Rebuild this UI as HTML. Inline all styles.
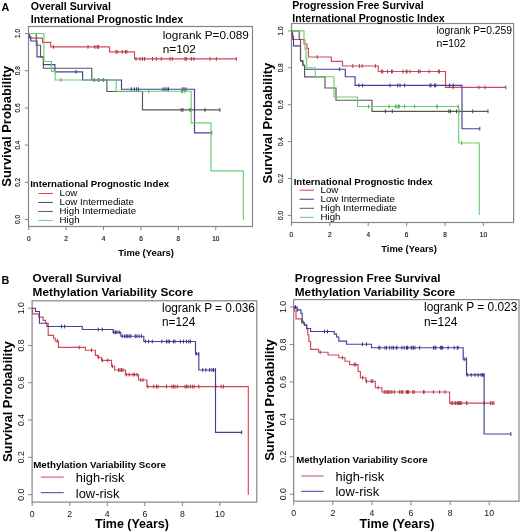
<!DOCTYPE html>
<html><head><meta charset="utf-8"><style>
html,body{margin:0;padding:0;background:#fff;}
svg{display:block;font-family:"Liberation Sans", sans-serif;will-change:transform;}
</style></head><body>
<svg width="520" height="532" viewBox="0 0 520 532">
<rect width="520" height="532" fill="#fff"/>
<rect x="28.5" y="26.5" width="224.0" height="200.0" fill="none" stroke="#858585" stroke-width="1.2"/>
<line x1="28.75" y1="226.5" x2="28.75" y2="230.1" stroke="#858585" stroke-width="1"/>
<text x="28.75" y="241.0" font-size="6.5" text-anchor="middle" fill="#111" stroke="#111" stroke-width="0.15">0</text>
<line x1="66.15" y1="226.5" x2="66.15" y2="230.1" stroke="#858585" stroke-width="1"/>
<text x="66.15" y="241.0" font-size="6.5" text-anchor="middle" fill="#111" stroke="#111" stroke-width="0.15">2</text>
<line x1="103.55" y1="226.5" x2="103.55" y2="230.1" stroke="#858585" stroke-width="1"/>
<text x="103.55" y="241.0" font-size="6.5" text-anchor="middle" fill="#111" stroke="#111" stroke-width="0.15">4</text>
<line x1="140.95" y1="226.5" x2="140.95" y2="230.1" stroke="#858585" stroke-width="1"/>
<text x="140.95" y="241.0" font-size="6.5" text-anchor="middle" fill="#111" stroke="#111" stroke-width="0.15">6</text>
<line x1="178.35" y1="226.5" x2="178.35" y2="230.1" stroke="#858585" stroke-width="1"/>
<text x="178.35" y="241.0" font-size="6.5" text-anchor="middle" fill="#111" stroke="#111" stroke-width="0.15">8</text>
<line x1="215.75" y1="226.5" x2="215.75" y2="230.1" stroke="#858585" stroke-width="1"/>
<text x="215.75" y="241.0" font-size="6.5" text-anchor="middle" fill="#111" stroke="#111" stroke-width="0.15">10</text>
<line x1="24.9" y1="219.50" x2="28.5" y2="219.50" stroke="#858585" stroke-width="1"/>
<text transform="translate(19.9 219.50) rotate(-90) scale(1 1.0)" x="0" y="0" font-size="6.5" text-anchor="middle" fill="#111" stroke="#111" stroke-width="0.15">0.0</text>
<line x1="24.9" y1="182.30" x2="28.5" y2="182.30" stroke="#858585" stroke-width="1"/>
<text transform="translate(19.9 182.30) rotate(-90) scale(1 1.0)" x="0" y="0" font-size="6.5" text-anchor="middle" fill="#111" stroke="#111" stroke-width="0.15">0.2</text>
<line x1="24.9" y1="145.10" x2="28.5" y2="145.10" stroke="#858585" stroke-width="1"/>
<text transform="translate(19.9 145.10) rotate(-90) scale(1 1.0)" x="0" y="0" font-size="6.5" text-anchor="middle" fill="#111" stroke="#111" stroke-width="0.15">0.4</text>
<line x1="24.9" y1="107.90" x2="28.5" y2="107.90" stroke="#858585" stroke-width="1"/>
<text transform="translate(19.9 107.90) rotate(-90) scale(1 1.0)" x="0" y="0" font-size="6.5" text-anchor="middle" fill="#111" stroke="#111" stroke-width="0.15">0.6</text>
<line x1="24.9" y1="70.70" x2="28.5" y2="70.70" stroke="#858585" stroke-width="1"/>
<text transform="translate(19.9 70.70) rotate(-90) scale(1 1.0)" x="0" y="0" font-size="6.5" text-anchor="middle" fill="#111" stroke="#111" stroke-width="0.15">0.8</text>
<line x1="24.9" y1="33.50" x2="28.5" y2="33.50" stroke="#858585" stroke-width="1"/>
<text transform="translate(19.9 33.50) rotate(-90) scale(1 1.0)" x="0" y="0" font-size="6.5" text-anchor="middle" fill="#111" stroke="#111" stroke-width="0.15">1.0</text>
<rect x="291.5" y="23.5" width="222.10000000000002" height="199.0" fill="none" stroke="#858585" stroke-width="1.2"/>
<line x1="291.40" y1="222.5" x2="291.40" y2="226.1" stroke="#858585" stroke-width="1"/>
<text x="291.40" y="236.9" font-size="6.5" text-anchor="middle" fill="#111" stroke="#111" stroke-width="0.15">0</text>
<line x1="329.80" y1="222.5" x2="329.80" y2="226.1" stroke="#858585" stroke-width="1"/>
<text x="329.80" y="236.9" font-size="6.5" text-anchor="middle" fill="#111" stroke="#111" stroke-width="0.15">2</text>
<line x1="368.20" y1="222.5" x2="368.20" y2="226.1" stroke="#858585" stroke-width="1"/>
<text x="368.20" y="236.9" font-size="6.5" text-anchor="middle" fill="#111" stroke="#111" stroke-width="0.15">4</text>
<line x1="406.60" y1="222.5" x2="406.60" y2="226.1" stroke="#858585" stroke-width="1"/>
<text x="406.60" y="236.9" font-size="6.5" text-anchor="middle" fill="#111" stroke="#111" stroke-width="0.15">6</text>
<line x1="445.00" y1="222.5" x2="445.00" y2="226.1" stroke="#858585" stroke-width="1"/>
<text x="445.00" y="236.9" font-size="6.5" text-anchor="middle" fill="#111" stroke="#111" stroke-width="0.15">8</text>
<line x1="483.40" y1="222.5" x2="483.40" y2="226.1" stroke="#858585" stroke-width="1"/>
<text x="483.40" y="236.9" font-size="6.5" text-anchor="middle" fill="#111" stroke="#111" stroke-width="0.15">10</text>
<line x1="287.9" y1="215.40" x2="291.5" y2="215.40" stroke="#858585" stroke-width="1"/>
<text transform="translate(282.5 215.40) rotate(-90) scale(1 1.0)" x="0" y="0" font-size="6.5" text-anchor="middle" fill="#111" stroke="#111" stroke-width="0.15">0.0</text>
<line x1="287.9" y1="178.50" x2="291.5" y2="178.50" stroke="#858585" stroke-width="1"/>
<text transform="translate(282.5 178.50) rotate(-90) scale(1 1.0)" x="0" y="0" font-size="6.5" text-anchor="middle" fill="#111" stroke="#111" stroke-width="0.15">0.2</text>
<line x1="287.9" y1="141.60" x2="291.5" y2="141.60" stroke="#858585" stroke-width="1"/>
<text transform="translate(282.5 141.60) rotate(-90) scale(1 1.0)" x="0" y="0" font-size="6.5" text-anchor="middle" fill="#111" stroke="#111" stroke-width="0.15">0.4</text>
<line x1="287.9" y1="104.70" x2="291.5" y2="104.70" stroke="#858585" stroke-width="1"/>
<text transform="translate(282.5 104.70) rotate(-90) scale(1 1.0)" x="0" y="0" font-size="6.5" text-anchor="middle" fill="#111" stroke="#111" stroke-width="0.15">0.6</text>
<line x1="287.9" y1="67.80" x2="291.5" y2="67.80" stroke="#858585" stroke-width="1"/>
<text transform="translate(282.5 67.80) rotate(-90) scale(1 1.0)" x="0" y="0" font-size="6.5" text-anchor="middle" fill="#111" stroke="#111" stroke-width="0.15">0.8</text>
<line x1="287.9" y1="30.90" x2="291.5" y2="30.90" stroke="#858585" stroke-width="1"/>
<text transform="translate(282.5 30.90) rotate(-90) scale(1 1.0)" x="0" y="0" font-size="6.5" text-anchor="middle" fill="#111" stroke="#111" stroke-width="0.15">1.0</text>
<rect x="32.1" y="300.8" width="224.70000000000002" height="201.3" fill="none" stroke="#858585" stroke-width="1.2"/>
<line x1="32.20" y1="502.1" x2="32.20" y2="506.1" stroke="#858585" stroke-width="1"/>
<text x="32.20" y="516.6" font-size="8.7" text-anchor="middle" fill="#111">0</text>
<line x1="69.74" y1="502.1" x2="69.74" y2="506.1" stroke="#858585" stroke-width="1"/>
<text x="69.74" y="516.6" font-size="8.7" text-anchor="middle" fill="#111">2</text>
<line x1="107.28" y1="502.1" x2="107.28" y2="506.1" stroke="#858585" stroke-width="1"/>
<text x="107.28" y="516.6" font-size="8.7" text-anchor="middle" fill="#111">4</text>
<line x1="144.82" y1="502.1" x2="144.82" y2="506.1" stroke="#858585" stroke-width="1"/>
<text x="144.82" y="516.6" font-size="8.7" text-anchor="middle" fill="#111">6</text>
<line x1="182.36" y1="502.1" x2="182.36" y2="506.1" stroke="#858585" stroke-width="1"/>
<text x="182.36" y="516.6" font-size="8.7" text-anchor="middle" fill="#111">8</text>
<line x1="219.90" y1="502.1" x2="219.90" y2="506.1" stroke="#858585" stroke-width="1"/>
<text x="219.90" y="516.6" font-size="8.7" text-anchor="middle" fill="#111">10</text>
<line x1="28.1" y1="494.60" x2="32.1" y2="494.60" stroke="#858585" stroke-width="1"/>
<text transform="translate(23.8 494.60) rotate(-90) scale(1 1.0)" x="0" y="0" font-size="8.7" text-anchor="middle" fill="#111">0.0</text>
<line x1="28.1" y1="457.32" x2="32.1" y2="457.32" stroke="#858585" stroke-width="1"/>
<text transform="translate(23.8 457.32) rotate(-90) scale(1 1.0)" x="0" y="0" font-size="8.7" text-anchor="middle" fill="#111">0.2</text>
<line x1="28.1" y1="420.04" x2="32.1" y2="420.04" stroke="#858585" stroke-width="1"/>
<text transform="translate(23.8 420.04) rotate(-90) scale(1 1.0)" x="0" y="0" font-size="8.7" text-anchor="middle" fill="#111">0.4</text>
<line x1="28.1" y1="382.76" x2="32.1" y2="382.76" stroke="#858585" stroke-width="1"/>
<text transform="translate(23.8 382.76) rotate(-90) scale(1 1.0)" x="0" y="0" font-size="8.7" text-anchor="middle" fill="#111">0.6</text>
<line x1="28.1" y1="345.48" x2="32.1" y2="345.48" stroke="#858585" stroke-width="1"/>
<text transform="translate(23.8 345.48) rotate(-90) scale(1 1.0)" x="0" y="0" font-size="8.7" text-anchor="middle" fill="#111">0.8</text>
<line x1="28.1" y1="308.20" x2="32.1" y2="308.20" stroke="#858585" stroke-width="1"/>
<text transform="translate(23.8 308.20) rotate(-90) scale(1 1.0)" x="0" y="0" font-size="8.7" text-anchor="middle" fill="#111">1.0</text>
<rect x="293.7" y="299.6" width="225.3" height="201.59999999999997" fill="none" stroke="#858585" stroke-width="1.2"/>
<line x1="293.70" y1="501.2" x2="293.70" y2="505.2" stroke="#858585" stroke-width="1"/>
<text x="293.70" y="516.2" font-size="8.7" text-anchor="middle" fill="#111">0</text>
<line x1="332.80" y1="501.2" x2="332.80" y2="505.2" stroke="#858585" stroke-width="1"/>
<text x="332.80" y="516.2" font-size="8.7" text-anchor="middle" fill="#111">2</text>
<line x1="371.90" y1="501.2" x2="371.90" y2="505.2" stroke="#858585" stroke-width="1"/>
<text x="371.90" y="516.2" font-size="8.7" text-anchor="middle" fill="#111">4</text>
<line x1="411.00" y1="501.2" x2="411.00" y2="505.2" stroke="#858585" stroke-width="1"/>
<text x="411.00" y="516.2" font-size="8.7" text-anchor="middle" fill="#111">6</text>
<line x1="450.10" y1="501.2" x2="450.10" y2="505.2" stroke="#858585" stroke-width="1"/>
<text x="450.10" y="516.2" font-size="8.7" text-anchor="middle" fill="#111">8</text>
<line x1="489.20" y1="501.2" x2="489.20" y2="505.2" stroke="#858585" stroke-width="1"/>
<text x="489.20" y="516.2" font-size="8.7" text-anchor="middle" fill="#111">10</text>
<line x1="289.7" y1="494.20" x2="293.7" y2="494.20" stroke="#858585" stroke-width="1"/>
<text transform="translate(285.9 494.20) rotate(-90) scale(1 1.0)" x="0" y="0" font-size="8.7" text-anchor="middle" fill="#111">0.0</text>
<line x1="289.7" y1="456.76" x2="293.7" y2="456.76" stroke="#858585" stroke-width="1"/>
<text transform="translate(285.9 456.76) rotate(-90) scale(1 1.0)" x="0" y="0" font-size="8.7" text-anchor="middle" fill="#111">0.2</text>
<line x1="289.7" y1="419.32" x2="293.7" y2="419.32" stroke="#858585" stroke-width="1"/>
<text transform="translate(285.9 419.32) rotate(-90) scale(1 1.0)" x="0" y="0" font-size="8.7" text-anchor="middle" fill="#111">0.4</text>
<line x1="289.7" y1="381.88" x2="293.7" y2="381.88" stroke="#858585" stroke-width="1"/>
<text transform="translate(285.9 381.88) rotate(-90) scale(1 1.0)" x="0" y="0" font-size="8.7" text-anchor="middle" fill="#111">0.6</text>
<line x1="289.7" y1="344.44" x2="293.7" y2="344.44" stroke="#858585" stroke-width="1"/>
<text transform="translate(285.9 344.44) rotate(-90) scale(1 1.0)" x="0" y="0" font-size="8.7" text-anchor="middle" fill="#111">0.8</text>
<line x1="289.7" y1="307.00" x2="293.7" y2="307.00" stroke="#858585" stroke-width="1"/>
<text transform="translate(285.9 307.00) rotate(-90) scale(1 1.0)" x="0" y="0" font-size="8.7" text-anchor="middle" fill="#111">1.0</text>
<text x="1.5" y="11.1" font-size="10.8" font-weight="bold" fill="#000">A</text>
<text x="1.6" y="284.0" font-size="10.8" font-weight="bold" fill="#000">B</text>
<text x="30.8" y="9.9" font-size="10.6" font-weight="bold" fill="#000">Overall Survival</text>
<text x="30.8" y="22.6" font-size="10.6" font-weight="bold" fill="#000">International Prognostic Index</text>
<text x="292.3" y="9.0" font-size="10.6" font-weight="bold" fill="#000">Progression Free Survival</text>
<text x="292.3" y="21.5" font-size="10.6" font-weight="bold" fill="#000">International Prognostic Index</text>
<text x="32.6" y="281.6" font-size="11.75" font-weight="bold" fill="#000">Overall Survival</text>
<text x="32.6" y="295.7" font-size="11.8" font-weight="bold" fill="#000">Methylation Variability Score</text>
<text x="294.8" y="281.6" font-size="11.76" font-weight="bold" fill="#000">Progression Free Survival</text>
<text x="294.8" y="295.7" font-size="11.8" font-weight="bold" fill="#000">Methylation Variability Score</text>
<text transform="translate(10.6 126.3) rotate(-90) scale(1 1.03)" x="0" y="0" font-size="12.95" font-weight="bold" text-anchor="middle" fill="#000">Survival Probability</text>
<text transform="translate(271.6 123.1) rotate(-90) scale(1 1.03)" x="0" y="0" font-size="12.95" font-weight="bold" text-anchor="middle" fill="#000">Survival Probability</text>
<text transform="translate(12.1 401.7) rotate(-90) scale(1 1.03)" x="0" y="0" font-size="12.95" font-weight="bold" text-anchor="middle" fill="#000">Survival Probability</text>
<text transform="translate(274.2 400.0) rotate(-90) scale(1 1.03)" x="0" y="0" font-size="13.05" font-weight="bold" text-anchor="middle" fill="#000">Survival Probability</text>
<text x="118.3" y="255.9" font-size="9.4" font-weight="bold" fill="#000">Time (Years)</text>
<text x="381.3" y="252.3" font-size="9.4" font-weight="bold" fill="#000">Time (Years)</text>
<text x="95.0" y="528.2" font-size="12.46" font-weight="bold" fill="#000">Time (Years)</text>
<text x="359.6" y="528.2" font-size="12.65" font-weight="bold" fill="#000">Time (Years)</text>
<text x="162.7" y="38.5" font-size="11.8" fill="#000">logrank P=0.089</text>
<text x="162.7" y="52.6" font-size="11.8" fill="#000">n=102</text>
<text x="436.4" y="33.9" font-size="10.35" fill="#000">logrank P=0.259</text>
<text x="436.4" y="47.0" font-size="10.35" fill="#000">n=102</text>
<text x="162.0" y="312.0" font-size="11.85" fill="#000">logrank P = 0.036</text>
<text x="162.0" y="326.2" font-size="11.85" fill="#000">n=124</text>
<text x="424.0" y="310.8" font-size="11.9" fill="#000">logrank P = 0.023</text>
<text x="424.0" y="325.6" font-size="11.9" fill="#000">n=124</text>
<text x="30.2" y="187.1" font-size="9.66" font-weight="bold" fill="#000">International Prognostic Index</text>
<text x="59.6" y="195.80" font-size="9.7" fill="#000">Low</text>
<line x1="38.3" y1="193.50" x2="52.9" y2="193.50" stroke="#d04858" stroke-width="1"/>
<text x="59.6" y="204.77" font-size="9.7" fill="#000">Low Intermediate</text>
<line x1="38.3" y1="202.47" x2="52.9" y2="202.47" stroke="#453f9e" stroke-width="1"/>
<text x="59.6" y="213.74" font-size="9.7" fill="#000">High Intermediate</text>
<line x1="38.3" y1="211.44" x2="52.9" y2="211.44" stroke="#585858" stroke-width="1"/>
<text x="59.6" y="222.71" font-size="9.7" fill="#000">High</text>
<line x1="38.3" y1="220.41" x2="52.9" y2="220.41" stroke="#6cce72" stroke-width="1"/>
<text x="293.7" y="184.6" font-size="9.66" font-weight="bold" fill="#000">International Prognostic Index</text>
<text x="320.5" y="192.70" font-size="9.7" fill="#000">Low</text>
<line x1="299.6" y1="190.20" x2="314" y2="190.20" stroke="#d04858" stroke-width="1"/>
<text x="320.5" y="201.75" font-size="9.7" fill="#000">Low Intermediate</text>
<line x1="299.6" y1="199.25" x2="314" y2="199.25" stroke="#453f9e" stroke-width="1"/>
<text x="320.5" y="210.80" font-size="9.7" fill="#000">High Intermediate</text>
<line x1="299.6" y1="208.30" x2="314" y2="208.30" stroke="#585858" stroke-width="1"/>
<text x="320.5" y="219.85" font-size="9.7" fill="#000">High</text>
<line x1="299.6" y1="217.35" x2="314" y2="217.35" stroke="#6cce72" stroke-width="1"/>
<text x="33.2" y="467.7" font-size="9.75" font-weight="bold" fill="#000">Methylation Variability Score</text>
<text x="75.8" y="481.90" font-size="12.9" fill="#000">high-risk</text>
<line x1="40.8" y1="477.10" x2="63.7" y2="477.10" stroke="#d04858" stroke-width="1"/>
<text x="75.8" y="497.50" font-size="12.9" fill="#000">low-risk</text>
<line x1="40.8" y1="492.70" x2="63.7" y2="492.70" stroke="#453f9e" stroke-width="1"/>
<text x="296.2" y="463.3" font-size="9.66" font-weight="bold" fill="#000">Methylation Variability Score</text>
<text x="335.5" y="481.00" font-size="12.9" fill="#000">high-risk</text>
<line x1="301.2" y1="476.00" x2="323.7" y2="476.00" stroke="#d04858" stroke-width="1"/>
<text x="335.5" y="496.30" font-size="12.9" fill="#000">low-risk</text>
<line x1="301.2" y1="491.30" x2="323.7" y2="491.30" stroke="#453f9e" stroke-width="1"/>
<path d="M28.6,33.5H29.8V38.1H42.6V42.4H50.7V46.9H109.5V51.8H134.5V58.9H236.5V58.9" fill="none" stroke="#d04858" stroke-width="1.15"/>
<path d="M53.4,45.00V48.80M88,45.00V48.80M94.9,45.00V48.80M97.2,45.00V48.80M98.5,45.00V48.80M116,49.90V53.70M117.2,49.90V53.70M122.3,49.90V53.70M125.4,49.90V53.70M126.9,49.90V53.70M136,57.00V60.80M140,57.00V60.80M142.5,57.00V60.80M144.5,57.00V60.80M152.5,57.00V60.80M156.3,57.00V60.80M161.3,57.00V60.80M170,57.00V60.80M172.3,57.00V60.80M185,57.00V60.80M186.3,57.00V60.80M191.3,57.00V60.80M193.8,57.00V60.80M210,57.00V60.80M216.3,57.00V60.80M236.3,57.00V60.80" fill="none" stroke="#a83444" stroke-width="1"/>
<path d="M28.6,33.5H29.2V36.9H30.8V41.0H37.0V56.8H43.4V64.6H54.9V71.8H82.6V80.0H121.5V89.2H194.5V132.9H211.7V132.9" fill="none" stroke="#453f9e" stroke-width="1.15"/>
<path d="M76,69.90V73.70M131.3,87.30V91.10M134.4,87.30V91.10M136.5,87.30V91.10M138.5,87.30V91.10M163,87.30V91.10M165,87.30V91.10M167,87.30V91.10M168.5,87.30V91.10M182.4,87.30V91.10M184,87.30V91.10M186,87.30V91.10M211.7,131.00V134.80" fill="none" stroke="#38328a" stroke-width="1"/>
<path d="M28.6,33.5H36.3V45.2H40.5V57.0H43.4V68.2H91.8V80.0H106.9V91.5H142.5V109.9H219.9V109.9" fill="none" stroke="#585858" stroke-width="1.15"/>
<path d="M94.2,78.10V81.90M98.8,78.10V81.90M103.4,78.10V81.90M181.2,108.00V111.80M183,108.00V111.80M190,108.00V111.80M191.3,108.00V111.80M194.5,108.00V111.80M205,108.00V111.80M219.9,108.00V111.80" fill="none" stroke="#444444" stroke-width="1"/>
<path d="M28.6,33.5H43.9V61.5H51.5V71.3H55.2V80.0H116.2V91.2H191.2V122.8H211.0V170.8H243.4V220.0" fill="none" stroke="#6cce72" stroke-width="1.15"/>
<path d="M61,78.10V81.90M148.7,89.30V93.10M181.3,89.30V93.10M182.5,89.30V93.10M185,89.30V93.10" fill="none" stroke="#4fb055" stroke-width="1"/>
<path d="M291.5,30.9H292.5V39.5H304V44H307V48.4H308.4V57H331.3V61.3H342.5V66H378.2V71.5H445.5V87.4H505.8V87.4" fill="none" stroke="#d04858" stroke-width="1.15"/>
<path d="M317.2,55.10V58.90M352.8,64.10V67.90M359.4,64.10V67.90M362.2,64.10V67.90M375.4,64.10V67.90M381.5,69.60V73.40M382.8,69.60V73.40M387.7,69.60V73.40M391.5,69.60V73.40M392.3,69.60V73.40M403,69.60V73.40M406.2,69.60V73.40M407,69.60V73.40M410,69.60V73.40M418.5,69.60V73.40M420,69.60V73.40M429.2,69.60V73.40M438.5,69.60V73.40M439.3,69.60V73.40M453.2,85.50V89.30M478.8,85.50V89.30M485,85.50V89.30M505.8,85.50V89.30" fill="none" stroke="#a83444" stroke-width="1"/>
<path d="M291.5,30.9H292.5V36H293.5V45.9H300.5V61.2H302.8V65.2H304.6V69.2H345.3V76.7H355.1V85.4H462V128.7H479.8V128.7" fill="none" stroke="#453f9e" stroke-width="1.15"/>
<path d="M339.7,67.30V71.10M358.9,83.50V87.30M362.6,83.50V87.30M390,83.50V87.30M397.7,83.50V87.30M400,83.50V87.30M404.6,83.50V87.30M430,83.50V87.30M431,83.50V87.30M434.6,83.50V87.30M435.7,83.50V87.30M449.6,83.50V87.30M453.2,83.50V87.30M479.8,126.80V130.60" fill="none" stroke="#38328a" stroke-width="1"/>
<path d="M291.5,30.9H299.2V39.3H300.5V60.6H302.8V65.2H304.6V76.8H325V88H336V100.2H372V111.3H488V111.3" fill="none" stroke="#585858" stroke-width="1.15"/>
<path d="M385.4,109.40V113.20M392.3,109.40V113.20M448.8,109.40V113.20M450.4,109.40V113.20M456.5,109.40V113.20M458.8,109.40V113.20M472.7,109.40V113.20M488,109.40V113.20" fill="none" stroke="#444444" stroke-width="1"/>
<path d="M291.5,30.9H304V40.1H305V49.4H306V58.6H306.8V67.7H315.3V76.7H334V97H357.5V106.5H458.7V143H479.3V215.1" fill="none" stroke="#6cce72" stroke-width="1.15"/>
<path d="M368.5,104.60V108.40M389,104.60V108.40M395.4,104.60V108.40M397,104.60V108.40M398.5,104.60V108.40M399.2,104.60V108.40M404.6,104.60V108.40M414.6,104.60V108.40M436.9,104.60V108.40M437.3,104.60V108.40M458,104.60V108.40M461.7,141.10V144.90" fill="none" stroke="#4fb055" stroke-width="1"/>
<path d="M32.1,308.2H32.5V313.8H38.9V317.1H43.1V320.4H45.5V323.2H48.2V335.4H53.6V338.2H55.2V341H58.5V347.4H85.4V350.2H95.4V355.3H97.7V357.2H101.5V360.3H111.5V366.2H114.6V370H125.4V374.6H138.5V380H146.9V386.6H248.3V494.7" fill="none" stroke="#d04858" stroke-width="1.15"/>
<path d="M57.2,339.10V342.90M79.2,345.50V349.30M91.5,348.30V352.10M98.5,355.30V359.10M102.3,358.40V362.20M107.7,358.40V362.20M112.3,364.30V368.10M118.5,368.10V371.90M120,368.10V371.90M121.5,368.10V371.90M123,368.10V371.90M126.2,372.70V376.50M129.2,372.70V376.50M133,372.70V376.50M134.6,372.70V376.50M137,372.70V376.50M140.8,378.10V381.90M143,378.10V381.90M147.7,384.70V388.50M153.8,384.70V388.50M156.5,384.70V388.50M158,384.70V388.50M166.5,384.70V388.50M171.9,384.70V388.50M173.5,384.70V388.50M175,384.70V388.50M177.3,384.70V388.50M185,384.70V388.50M186.5,384.70V388.50M188,384.70V388.50M190.4,384.70V388.50M192.7,384.70V388.50M194.2,384.70V388.50M198.8,384.70V388.50M215.8,384.70V388.50M221.2,384.70V388.50M223.5,384.70V388.50" fill="none" stroke="#a83444" stroke-width="1"/>
<path d="M32.1,308.2H35.5V311.5H39.4V323.2H46.9V326.5H82.3V329.5H113.1V332.3H120.8V336.2H143.8V341.5H195.5V353.8H198.8V370H215.5V432.3H241.7V432.3" fill="none" stroke="#453f9e" stroke-width="1.15"/>
<path d="M61.5,324.60V328.40M64.6,324.60V328.40M98.2,327.60V331.40M102.3,327.60V331.40M113.8,330.40V334.20M115.4,330.40V334.20M116.9,330.40V334.20M119.2,330.40V334.20M122.3,334.30V338.10M124.6,334.30V338.10M126.2,334.30V338.10M127.7,334.30V338.10M129.2,334.30V338.10M130.8,334.30V338.10M135.4,334.30V338.10M136.9,334.30V338.10M139.2,334.30V338.10M141.5,334.30V338.10M145.4,339.60V343.40M148.5,339.60V343.40M152.3,339.60V343.40M161.9,339.60V343.40M166.5,339.60V343.40M168.1,339.60V343.40M169.6,339.60V343.40M173.5,339.60V343.40M175,339.60V343.40M180.4,339.60V343.40M183.5,339.60V343.40M186.5,339.60V343.40M188.8,339.60V343.40M190.4,339.60V343.40M196.2,351.90V355.70M198.7,351.90V355.70M202.7,368.10V371.90M205.8,368.10V371.90M209.6,368.10V371.90M211.9,368.10V371.90M213.5,368.10V371.90M215.4,368.10V371.90M241.7,430.40V434.20" fill="none" stroke="#38328a" stroke-width="1"/>
<path d="M293.7,307.1H294.5V311H296V318.9H301.6V322.9H304.4V325.1H306.7V329H307.8V335H308.9V341.5H310.6V349.4H318.5V352.2H328.1V355H338.8V357.7H345V361.2H349.6V364.6H358.1V371.5H360.4V377.7H365.8V381.2H375.3V387.7H381.9V392H449.6V403.1H493.9V403.1" fill="none" stroke="#d04858" stroke-width="1.15"/>
<path d="M320.2,350.30V354.10M342.4,355.80V359.60M354.2,362.70V366.50M355.8,362.70V366.50M362.7,375.80V379.60M366.5,379.30V383.10M371.2,379.30V383.10M372.7,379.30V383.10M378.1,385.80V389.60M384.2,390.10V393.90M385.8,390.10V393.90M387.3,390.10V393.90M388.8,390.10V393.90M390,390.10V393.90M391.9,390.10V393.90M394.2,390.10V393.90M399.6,390.10V393.90M401.2,390.10V393.90M402.7,390.10V393.90M406.5,390.10V393.90M407.3,390.10V393.90M408,390.10V393.90M408.8,390.10V393.90M412.7,390.10V393.90M414.2,390.10V393.90M423.5,390.10V393.90M424.2,390.10V393.90M433.5,390.10V393.90M439.6,390.10V393.90M445,390.10V393.90M451.2,401.20V405.00M452.7,401.20V405.00M455,401.20V405.00M455.8,401.20V405.00M457.3,401.20V405.00M458.4,401.20V405.00M459.6,401.20V405.00M460.9,401.20V405.00M461.2,401.20V405.00M466.5,401.20V405.00M466.8,401.20V405.00M484.1,401.20V405.00M490.5,401.20V405.00M492.2,401.20V405.00M493.9,401.20V405.00" fill="none" stroke="#a83444" stroke-width="1"/>
<path d="M293.7,307.1H297.1V309.9H301V313.3H302.2V321.2H303.3V322.9H304.4V325.1H306.7V328.5H310.6V331.5H334.3V334.1H336.5V337H338.8V341.1H346.5V344.2H371.5V347.7H463.2V359.2H466.5V374.9H484.1V434H510.8V434" fill="none" stroke="#453f9e" stroke-width="1.15"/>
<path d="M295.5,305.20V309.00M297.2,308.00V311.80M324.5,329.60V333.40M327.5,329.60V333.40M362.4,342.30V346.10M366.5,342.30V346.10M378.8,345.80V349.60M379.9,345.80V349.60M385,345.80V349.60M386.5,345.80V349.60M389.6,345.80V349.60M391.9,345.80V349.60M393.5,345.80V349.60M396.2,345.80V349.60M397,345.80V349.60M401.9,345.80V349.60M404.2,345.80V349.60M406.5,345.80V349.60M407.3,345.80V349.60M407.8,345.80V349.60M411.2,345.80V349.60M411.9,345.80V349.60M413.5,345.80V349.60M415,345.80V349.60M419.6,345.80V349.60M433.5,345.80V349.60M435,345.80V349.60M435.8,345.80V349.60M440.4,345.80V349.60M441.6,345.80V349.60M442.7,345.80V349.60M448.1,345.80V349.60M454.2,345.80V349.60M457.3,345.80V349.60M458.1,345.80V349.60M464.2,357.30V361.10M466.4,357.30V361.10M467.3,373.00V376.80M471.2,373.00V376.80M475,373.00V376.80M478.1,373.00V376.80M481.2,373.00V376.80M482.7,373.00V376.80M484,373.00V376.80M510.8,432.10V435.90" fill="none" stroke="#38328a" stroke-width="1"/>
</svg>
</body></html>
